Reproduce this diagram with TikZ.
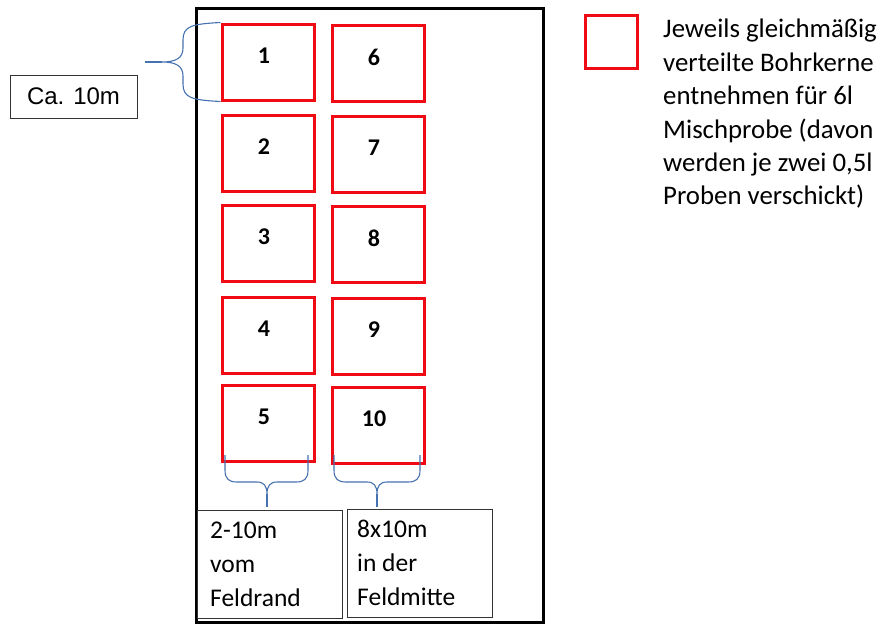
\documentclass[tikz,border=0pt]{standalone}
\usepackage{fontspec}
\setmainfont{Carlito}
\newfontfamily\arialf{Liberation Sans}
\definecolor{boxred}{RGB}{240,10,20}
\definecolor{braceblue}{RGB}{70,114,176}
\tikzset{
  sample/.style={draw=boxred, line width=3pt, minimum width=92pt, minimum height=76pt, inner sep=0pt},
  numlbl/.style={font=\bfseries\fontsize{24}{26}\selectfont, inner sep=0pt},
  infobox/.style={draw=black!80, line width=1pt, minimum width=145pt, minimum height=108pt, inner sep=0pt},
  bracestyle/.style={draw=braceblue, line width=1.1pt},
  bodytext/.style={align=left, inner sep=0pt, anchor=north west}
}
\begin{document}
\begin{tikzpicture}[x=1pt,y=-1pt]
\useasboundingbox (0,0) rectangle (880,624);
% field
\draw[line width=3pt] (196,8) rectangle (543,622);
% sample boxes
\foreach \n/\x/\y in {1/268/62, 2/268/153, 3/268/243, 4/268/335, 5/268/423,
                      6/378/63, 7/378/154, 8/378/244, 9/378/336, 10/378/425}{
  \node[sample] (b\n) at (\x,\y) {};
  \node[numlbl] (n\n) at (\x-4,\y-6) {\n};
}
% left brace
\coordinate (lt) at (b1.north west);
\coordinate (lb) at (b1.south west);
\coordinate (ltip) at (145,62);
\draw[bracestyle] (lt) .. controls (192,24) and (183,26) .. (183,40)
  -- (183,48) .. controls (183,58) and (176,62) .. (162,62)
  .. controls (176,62) and (183,66) .. (183,76)
  -- (183,84) .. controls (183,98) and (192,100) .. (lb);
\draw[bracestyle] (162,62) -- (ltip);
% Ca. 10m
\node[draw=black!80, line width=1pt, minimum width=127pt, minimum height=43pt, inner sep=0pt,
      font=\arialf\fontsize{24}{26}\selectfont] (ca) at (73.5,96.5) {Ca. 10m};
% bottom braces
\foreach \k/\a/\m/\b in {l/225/267/308, r/334/377/420}{
  \draw[bracestyle] (\a,455) -- (\a,470) .. controls (\a,479) and (\a+4,482) .. (\a+12,482)
    -- (\m-10,482) .. controls (\m-3,482) and (\m,486) .. (\m,494)
    .. controls (\m,486) and (\m+3,482) .. (\m+10,482)
    -- (\b-12,482) .. controls (\b-4,482) and (\b,479) .. (\b,470) -- (\b,455);
  \coordinate (tip\k) at (\m,507);
  \draw[bracestyle] (\m,494) -- (tip\k);
}
% info boxes
\node[infobox, anchor=north west] (ia) at (197,510) {};
\node[infobox, anchor=north west] (ib) at (347,509) {};
\node[bodytext, font=\fontsize{25.5}{34}\selectfont] (ta) at (210,522) {2-10m\\vom\\Feldrand};
\node[bodytext, font=\fontsize{25.5}{34}\selectfont] (tb) at (357,520) {8x10m\\in der\\Feldmitte};
% legend
\node[draw=boxred, line width=3pt, minimum width=52pt, minimum height=53pt, inner sep=0pt, anchor=north west] (leg) at (584,14) {};
\node[bodytext, font=\fontsize{26.8}{33.4}\selectfont] (legt) at (663,19) {Jeweils gleichmäßig\\verteilte Bohrkerne\\entnehmen für 6l\\Mischprobe (davon\\werden je zwei 0,5l\\Proben verschickt)};
\end{tikzpicture}
\end{document}
